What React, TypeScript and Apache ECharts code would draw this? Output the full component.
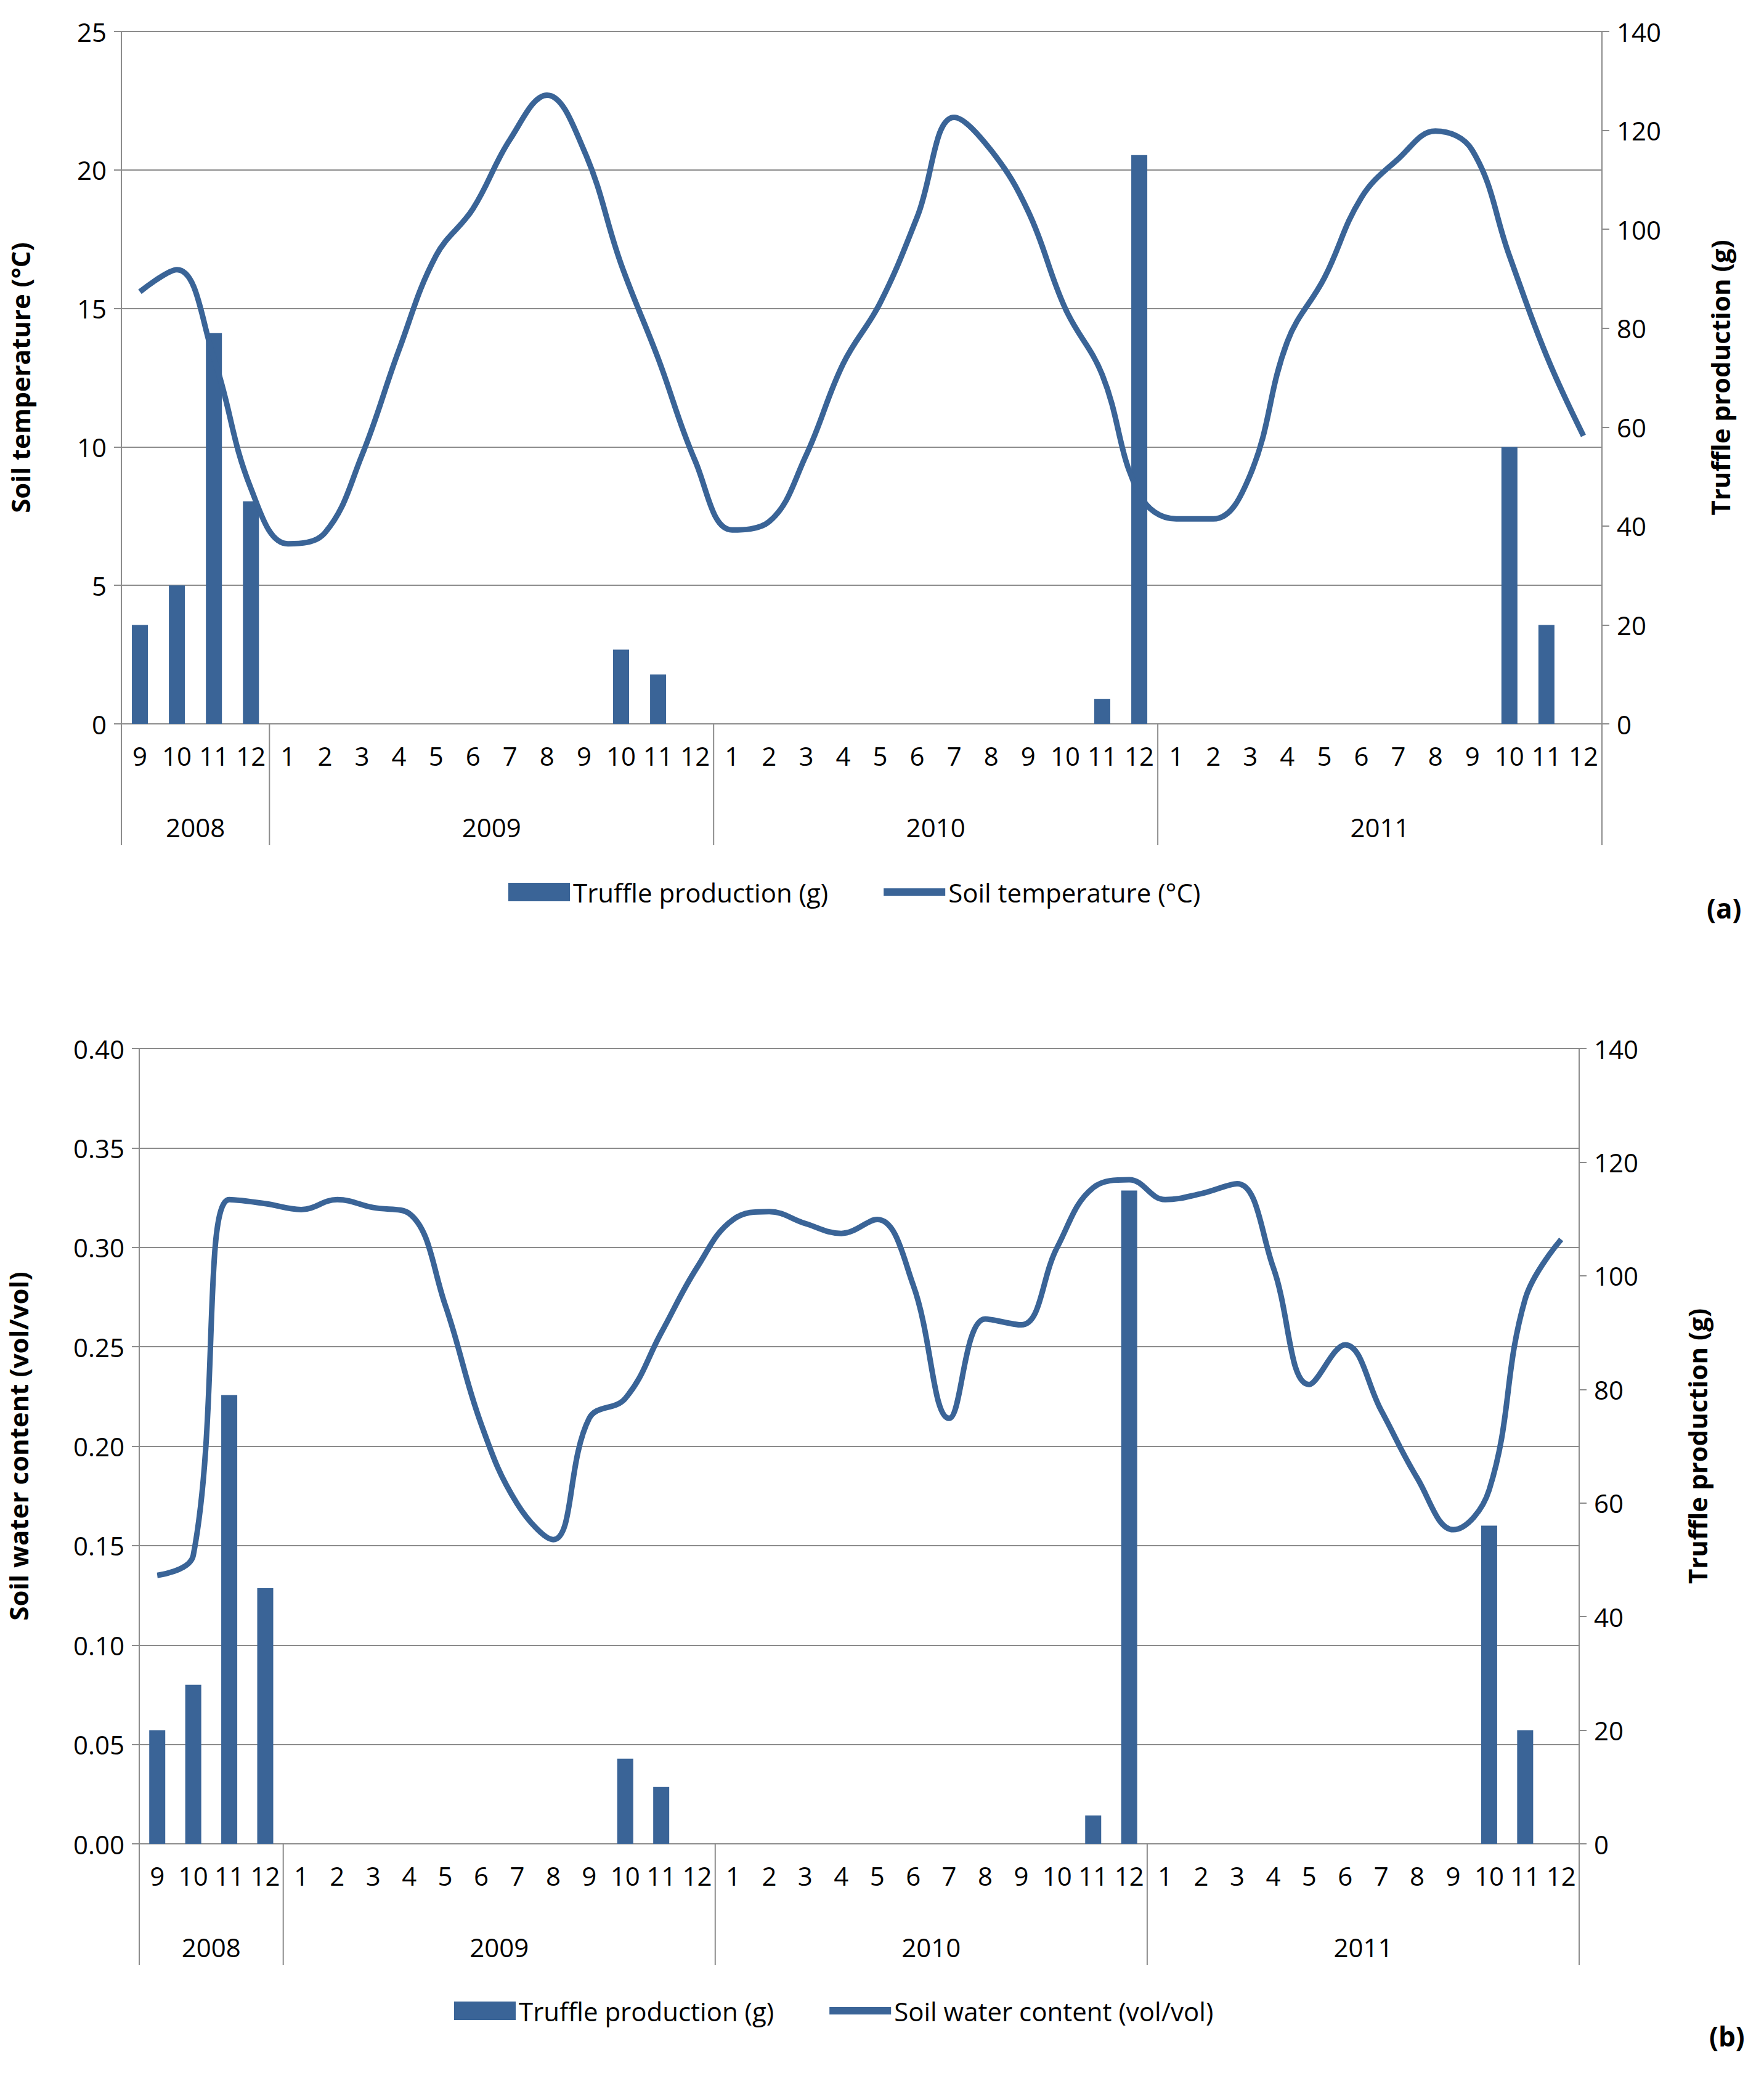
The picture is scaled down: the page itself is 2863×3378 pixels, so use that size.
import { useEffect, useRef } from 'react';
import * as echarts from 'echarts';

const months = ['9', '10', '11', '12',
  '1', '2', '3', '4', '5', '6', '7', '8', '9', '10', '11', '12',
  '1', '2', '3', '4', '5', '6', '7', '8', '9', '10', '11', '12',
  '1', '2', '3', '4', '5', '6', '7', '8', '9', '10', '11', '12'];
const years = [
  { label: '2008', from: 0, to: 4 },
  { label: '2009', from: 4, to: 16 },
  { label: '2010', from: 16, to: 28 },
  { label: '2011', from: 28, to: 40 },
];
const truffle = [20, 28, 79, 45,
  0, 0, 0, 0, 0, 0, 0, 0, 0, 15, 10, 0,
  0, 0, 0, 0, 0, 0, 0, 0, 0, 0, 5, 115,
  0, 0, 0, 0, 0, 0, 0, 0, 0, 56, 20, 0];
const soilTemp = [15.6, 16.4, 13.2, 8.5,
  6.5, 6.9, 9.7, 13.5, 16.9, 18.6, 21.1, 22.7, 20.7, 16.6, 13.2, 9.5,
  7.0, 7.3, 9.7, 13.0, 15.2, 18.3, 21.9, 20.7, 18.5, 15.0, 12.6, 8.3,
  7.4, 7.4, 9.0, 13.8, 16.1, 19.0, 20.4, 21.4, 20.7, 16.9, 13.3, 10.4];
const soilWater = [0.135, 0.145, 0.324, 0.322,
  0.319, 0.324, 0.32, 0.317, 0.271, 0.211, 0.171, 0.153, 0.214, 0.224, 0.257, 0.29,
  0.314, 0.318, 0.312, 0.307, 0.314, 0.281, 0.214, 0.264, 0.261, 0.30, 0.33, 0.334,
  0.324, 0.327, 0.332, 0.29, 0.231, 0.251, 0.218, 0.184, 0.158, 0.178, 0.274, 0.304];

const BLUE = '#3A6497';
const GRAY = '#8C8C8C';
const FONT = 'Open Sans';
const W = 2863;
const H = 3378;
const LINE_ICON = 'path://M0 44H100V56H0Z';

const grids = [
  { left: 197, right: W - 2600, top: 51, height: 1124 },
  { left: 223, right: W - 2563, top: 1702, height: 1291 },
];

export default function App() {
  const chartRef = useRef<HTMLDivElement>(null);

  useEffect(() => {
    if (!chartRef.current) return;
    document.body.style.margin = '0';
    const chart = echarts.init(chartRef.current, null, { renderer: 'svg' });

    const xAxis = (gi: number) => ({
      type: 'category',
      gridIndex: gi,
      data: months,
      axisLine: { lineStyle: { color: GRAY, width: 2 } },
      axisTick: { length: 110, lineStyle: { color: GRAY, width: 2 } },
      axisLabel: { interval: 0, fontSize: 42, color: '#000', fontFamily: FONT, margin: 30 },
    });
    const yAxis = (gi: number, max: number, interval: number, name: string, right: boolean, gap: number, fmt?: (v: number) => string) => ({
      type: 'value',
      gridIndex: gi,
      min: 0,
      max,
      interval,
      position: right ? 'right' : 'left',
      name,
      nameLocation: 'middle',
      nameGap: gap,
      nameTextStyle: { fontSize: 42, fontWeight: 'bold', color: '#000', fontFamily: FONT },
      axisLine: { show: true, lineStyle: { color: GRAY, width: 2 } },
      axisTick: { show: true, length: 12, lineStyle: { color: GRAY, width: 2 } },
      axisLabel: { fontSize: 42, color: '#000', fontFamily: FONT, margin: 24, formatter: fmt },
      splitLine: { show: !right, lineStyle: { color: GRAY, width: 2 } },
    });
    const legend = (left: number, top: number, lineName: string) => ({
      left, top, itemWidth: 100, itemHeight: 30, itemGap: 90,
      textStyle: { fontSize: 42, fontFamily: FONT, color: '#000' },
      data: [
        { name: 'Truffle production (g)', icon: 'rect' },
        { name: lineName, icon: LINE_ICON },
      ],
    });
    const line = (name: string, xi: number, yi: number, data: number[]) => ({
      name, type: 'line', xAxisIndex: xi, yAxisIndex: yi, data, smooth: 0.4,
      showSymbol: false, symbol: 'none',
      lineStyle: { color: BLUE, width: 9 }, itemStyle: { color: BLUE },
    });

    const option: any = {
      animation: false,
      backgroundColor: '#fff',
      grid: grids,
      xAxis: [xAxis(0), xAxis(1)],
      yAxis: [
        yAxis(0, 25, 5, 'Soil temperature (°C)', false, 144),
        yAxis(0, 140, 20, 'Truffle production (g)', true, 170),
        yAxis(1, 0.4, 0.05, 'Soil water content (vol/vol)', false, 176, (v: number) => v.toFixed(2)),
        yAxis(1, 140, 20, 'Truffle production (g)', true, 170),
      ],
      legend: [
        legend(820, 1422, 'Soil temperature (°C)'),
        legend(732, 3238, 'Soil water content (vol/vol)'),
      ],
      series: [
        { name: 'Truffle production (g)', type: 'bar', xAxisIndex: 0, yAxisIndex: 1, data: truffle, barWidth: 26, itemStyle: { color: BLUE } },
        line('Soil temperature (°C)', 0, 0, soilTemp),
        { name: 'Truffle production (g)', type: 'bar', xAxisIndex: 1, yAxisIndex: 3, data: truffle, barWidth: 26, itemStyle: { color: BLUE } },
        line('Soil water content (vol/vol)', 1, 2, soilWater),
      ],
    };
    chart.setOption(option);

    // year labels and long separators, placed through the category axes
    const graphic: any[] = [
      { type: 'text', left: 2770, top: 1452, style: { text: '(a)', fontSize: 44, fontWeight: 'bold', fontFamily: FONT, fill: '#000' } },
      { type: 'text', left: 2774, top: 3283, style: { text: '(b)', fontSize: 44, fontWeight: 'bold', fontFamily: FONT, fill: '#000' } },
    ];
    grids.forEach((g, gi) => {
      const p0 = chart.convertToPixel({ xAxisIndex: gi }, 0) as number;
      const p1 = chart.convertToPixel({ xAxisIndex: gi }, 1) as number;
      const bw = p1 - p0;
      const base = g.top + g.height;
      years.forEach((yr) => {
        const x1 = p0 + (yr.from - 0.5) * bw;
        const x2 = p0 + (yr.to - 0.5) * bw;
        graphic.push({ type: 'line', shape: { x1, y1: base, x2: x1, y2: base + 197 }, style: { stroke: GRAY, lineWidth: 2 } });
        if (yr.to === 40) graphic.push({ type: 'line', shape: { x1: x2, y1: base, x2, y2: base + 197 }, style: { stroke: GRAY, lineWidth: 2 } });
        graphic.push({ type: 'text', x: (x1 + x2) / 2, y: base + 167, style: { text: yr.label, fontSize: 42, fontFamily: FONT, fill: '#000', align: 'center', verticalAlign: 'middle' } });
      });
    });
    chart.setOption({ graphic });

    return () => chart.dispose();
  }, []);

  return <div ref={chartRef} style={{ width: W, height: H }} />;
}
